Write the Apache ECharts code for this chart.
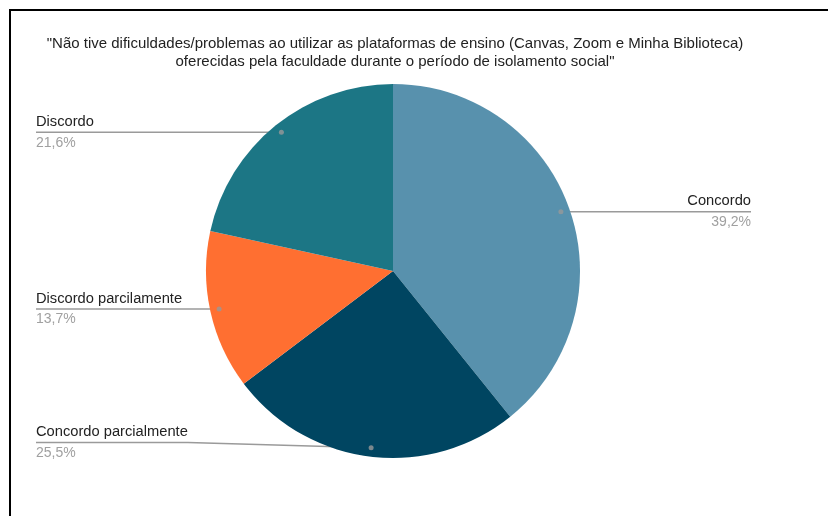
<!DOCTYPE html>
<html>
<head>
<meta charset="utf-8">
<script src="https://cdn.jsdelivr.net/npm/echarts@6/dist/echarts.min.js"></script>
<style>
  html, body { margin: 0; padding: 0; background: #fff; width: 828px; height: 516px; overflow: hidden; }
  #chart { position: absolute; left: 0; top: 0; width: 828px; height: 516px; }
  #frame { position: absolute; left: 9px; top: 9px; width: 900px; height: 600px;
           border: 2.5px solid #000; pointer-events: none; }
</style>
</head>
<body>
<div id="chart"></div>
<div id="frame"></div>
<script>
// Survey answers (number of respondents per option)
const titleLines = [
  '"Não tive dificuldades/problemas ao utilizar as plataformas de ensino (Canvas, Zoom e Minha Biblioteca)',
  'oferecidas pela faculdade durante o período de isolamento social"'
];
const categories = ['Concordo', 'Concordo parcialmente', 'Discordo parcilamente', 'Discordo'];
const responses = [20, 13, 7, 11];
const sliceColors = ['#5891ad', '#004561', '#ff6f31', '#1c7685'];

const FONT = '"Liberation Sans", Arial, sans-serif';
const PIE_CENTER = [393, 271];
const PIE_RADIUS = 187;
const DOT_RATIO = 0.952;   // where the leader lines start, as a share of the radius
const LABEL_FLOOR = PIE_CENTER[1] + PIE_RADIUS + 2;   // labels never reach below this

const total = responses.reduce((a, b) => a + b, 0);
// middle of each slice, in data units along the angle axis
const midValues = [];
responses.reduce((acc, v) => { midValues.push(acc + v / 2); return acc + v; }, 0);

const pieData = categories.map((name, i) => ({
  name: name, value: responses[i], itemStyle: { color: sliceColors[i] }
}));

function pctText(p) {
  return p.percent.toFixed(1).replace('.', ',') + '%';
}

const chart = echarts.init(document.getElementById('chart'), null, { renderer: 'canvas' });

chart.setOption({
  animation: false,
  backgroundColor: '#ffffff',
  title: {
    text: titleLines.join('\n'),
    left: 395,
    top: 35,
    padding: 0,
    textAlign: 'center',
    textStyle: {
      fontFamily: FONT, fontSize: 15, fontWeight: 'normal', color: '#222', lineHeight: 18
    }
  },
  polar: { center: PIE_CENTER, radius: PIE_RADIUS },
  angleAxis: { type: 'value', min: 0, max: total, startAngle: 90, clockwise: true, show: false },
  radiusAxis: { type: 'value', min: 0, max: 1, show: false },
  series: [
    {
      // the pie itself
      type: 'pie',
      left: 0, right: 41, top: 0, bottom: 0,
      center: PIE_CENTER,
      radius: PIE_RADIUS,
      startAngle: 90,
      clockwise: true,
      silent: true,
      label: { show: false },
      labelLine: { show: false },
      data: pieData
    },
    {
      // transparent copy, slightly smaller, carrying the labels and leader lines
      type: 'pie',
      left: 0, right: 41, top: 0, bottom: 0,
      center: PIE_CENTER,
      radius: PIE_RADIUS * DOT_RATIO,
      startAngle: 90,
      clockwise: true,
      silent: true,
      percentPrecision: 1,
      itemStyle: { color: 'rgba(0,0,0,0)' },
      data: categories.map((name, i) => ({ name: name, value: responses[i] })),
      label: {
        show: true,
        position: 'outside',
        alignTo: 'edge',
        edgeDistance: 36,
        formatter: p => '{n|' + p.name + '}\n{p|' + pctText(p) + '}',
        rich: {
          n: { fontFamily: FONT, fontSize: 14.7, color: '#222', lineHeight: 21 },
          p: { fontFamily: FONT, fontSize: 14, color: '#a0a0a0', lineHeight: 21 }
        }
      },
      labelLine: {
        show: true,
        length: 0,
        length2: 10,
        lineStyle: { color: '#9a9a9a', width: 1.5 }
      },
      labelLayout: function (p) {
        const pts = p.labelLinePoints;
        if (!pts || !pts.length) return {};
        const r = p.labelRect;
        // lift labels that would hang below the pie
        const over = r.y + r.height - LABEL_FLOOR;
        const dy = over > 0 ? -over : 0;
        const first = pts[0];
        const last = pts[pts.length - 1];
        const toLeft = last[0] < first[0];
        const y = last[1] + dy;
        const nearX = toLeft ? r.x + r.width : r.x;
        const farX = toLeft ? r.x : r.x + r.width;
        return {
          dy: dy,
          labelLinePoints: [first, [nearX, y], [farX, y]]
        };
      }
    },
    {
      // small dots at the start of each leader line
      type: 'scatter',
      coordinateSystem: 'polar',
      silent: true,
      symbol: 'circle',
      symbolSize: 5,
      itemStyle: { color: '#999999' },
      z: 5,
      data: midValues.map(m => [DOT_RATIO, m])
    }
  ]
});
</script>
</body>
</html>
